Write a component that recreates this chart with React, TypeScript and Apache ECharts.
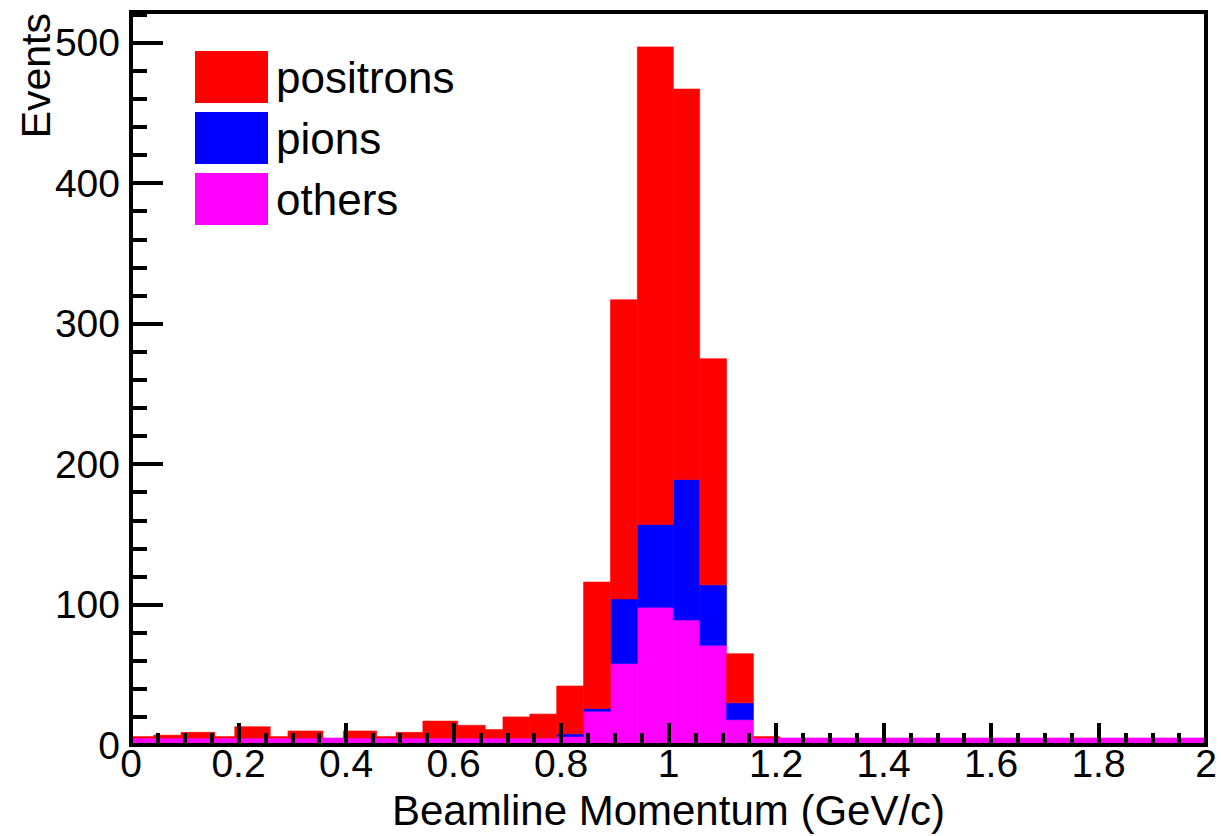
import React, { useEffect, useRef } from "react";
import * as echarts from "echarts";

// Bin edges (GeV/c)
const binEdges = [
  0, 0.042, 0.093, 0.156, 0.193, 0.259, 0.292, 0.357, 0.395, 0.457, 0.493,
  0.543, 0.608, 0.659, 0.692, 0.742, 0.792, 0.842, 0.892, 0.942, 1.009,
  1.058, 1.108, 1.158, 1.207, 1.25, 1.3, 1.35, 1.4, 1.45, 1.5, 1.55, 1.6,
  1.65, 1.7, 1.75, 1.8, 1.85, 1.9, 1.95, 2.0,
];

// Stacked contributions per bin (bottom to top)
const others = [
  5, 5, 5, 5, 5, 5, 5, 5, 5, 5, 5, 5, 5, 5, 5, 5, 6, 24, 58, 98, 89, 71, 18,
  5, 5, 5, 5, 5, 5, 5, 5, 5, 5, 5, 5, 5, 5, 5, 5, 5,
];
const pions = [
  0, 0, 0, 0, 0, 0, 0, 0, 0, 0, 0, 0, 0, 0, 0, 0, 2, 2, 46, 59, 100, 43, 12,
  0, 0, 0, 0, 0, 0, 0, 0, 0, 0, 0, 0, 0, 0, 0, 0, 0,
];
const positrons = [
  1, 2, 4, 1, 8, 1, 5, 0, 5, 1, 4, 12, 9, 6, 15, 17, 34, 90, 213, 340, 278,
  161, 35, 1, 0, 0, 0, 0, 0, 0, 0, 0, 0, 0, 0, 0, 0, 0, 0, 0,
];

const seriesNames = ["others", "pions", "positrons"];
const seriesColors = ["#ff00ff", "#0000ff", "#ff0000"];
const legendOrder = ["positrons", "pions", "others"];

const xTickLabels = ["0", "0.2", "0.4", "0.6", "0.8", "1", "1.2", "1.4", "1.6", "1.8", "2"];

const FONT = '"Liberation Sans", Arial, Helvetica, sans-serif';

export default function App() {
  const ref = useRef<HTMLDivElement>(null);

  useEffect(() => {
    if (!ref.current) return;
    const chart = echarts.init(ref.current, null, { renderer: "svg" });

    const layers = [others, pions, positrons];
    const cum = new Array(others.length).fill(0);
    const seriesData = layers.map((vals) => {
      const d: number[][] = [];
      for (let i = 0; i < vals.length; i++) {
        const base = cum[i];
        const top = base + vals[i];
        cum[i] = top;
        d.push([binEdges[i], binEdges[i + 1], base, top]);
      }
      return d;
    });
    const peak = Math.max(...cum);
    const yMax = peak * 1.05;

    const series = seriesNames.map((name, k) => ({
      type: "custom",
      name,
      xAxisIndex: 0,
      yAxisIndex: 0,
      z: 2,
      itemStyle: { color: seriesColors[k] },
      encode: { x: [0, 1], y: [2, 3] },
      data: seriesData[k],
      renderItem: (params: any, api: any) => {
        const x0 = api.value(0);
        const x1 = api.value(1);
        const y0 = api.value(2);
        const y1 = api.value(3);
        if (y1 <= y0) return null;
        const p0 = api.coord([x0, y1]);
        const p1 = api.coord([x1, y0]);
        return {
          type: "rect",
          shape: { x: p0[0], y: p0[1], width: p1[0] - p0[0], height: p1[1] - p0[1] },
          style: { fill: seriesColors[k], stroke: seriesColors[k], lineWidth: 0.6 },
        };
      },
    }));

    chart.setOption({
      animation: false,
      backgroundColor: "#ffffff",
      grid: {
        left: 131,
        right: 15,
        top: 12,
        bottom: 91,
        containLabel: false,
        outerBoundsMode: "none",
        show: true,
        borderColor: "#000",
        borderWidth: 4,
        backgroundColor: "transparent",
        z: 10,
      },
      legend: {
        data: legendOrder,
        orient: "vertical",
        left: 195,
        top: 51,
        padding: 0,
        itemWidth: 73,
        itemHeight: 52,
        itemGap: 9,
        icon: "rect",
        selectedMode: false,
        textStyle: {
          fontFamily: FONT,
          fontSize: 44,
          color: "#000",
          lineHeight: 52,
          padding: [0, 0, 0, 3],
        },
      },
      xAxis: [
        {
          type: "value",
          min: 0,
          max: 2,
          interval: 0.2,
          z: 10,
          axisLine: { show: false },
          splitLine: { show: false },
          axisTick: { show: true, inside: true, length: 22, lineStyle: { color: "#000", width: 4 } },
          minorTick: { show: true, splitNumber: 4, length: 12, lineStyle: { color: "#000", width: 4 } },
          axisLabel: {
            fontFamily: FONT,
            fontSize: 39,
            color: "#000",
            margin: -1,
            formatter: (v: number) => {
              const idx = Math.round(v / 0.2);
              return Math.abs(v - idx * 0.2) < 1e-6 ? xTickLabels[idx] ?? "" : "";
            },
          },
          name: "Beamline Momentum (GeV/c)",
          nameLocation: "middle",
          nameGap: 44,
          nameTextStyle: { fontFamily: FONT, fontSize: 42, color: "#000" },
        },
      ],
      yAxis: [
        {
          type: "value",
          min: 0,
          max: yMax,
          interval: 100,
          position: "left",
          z: 10,
          axisLine: { show: false },
          splitLine: { show: false },
          axisTick: { show: true, inside: true, length: 32, lineStyle: { color: "#000", width: 4 } },
          axisLabel: {
            fontFamily: FONT,
            fontSize: 39,
            color: "#000",
            margin: 11,
            showMaxLabel: false,
            formatter: (v: number) => (Math.abs(v % 100) < 1e-6 ? String(Math.round(v)) : ""),
          },
        },
        {
          type: "value",
          min: 0,
          max: yMax,
          interval: 20,
          position: "left",
          offset: 0,
          z: 10,
          axisLine: { show: false },
          splitLine: { show: false },
          axisTick: { show: true, inside: true, length: 16, lineStyle: { color: "#000", width: 4 } },
          axisLabel: { show: false },
        },
      ],
      graphic: [
        {
          type: "text",
          x: 36,
          y: 13,
          rotation: Math.PI / 2,
          z: 20,
          style: {
            text: "Events",
            font: `41px ${FONT}`,
            fill: "#000",
            align: "right",
            verticalAlign: "middle",
          },
        },
      ],
      series,
    });

    return () => chart.dispose();
  }, []);

  return (
    <div
      ref={ref}
      style={{ position: "absolute", left: 0, top: 0, width: 1221, height: 836, background: "#fff" }}
    />
  );
}
